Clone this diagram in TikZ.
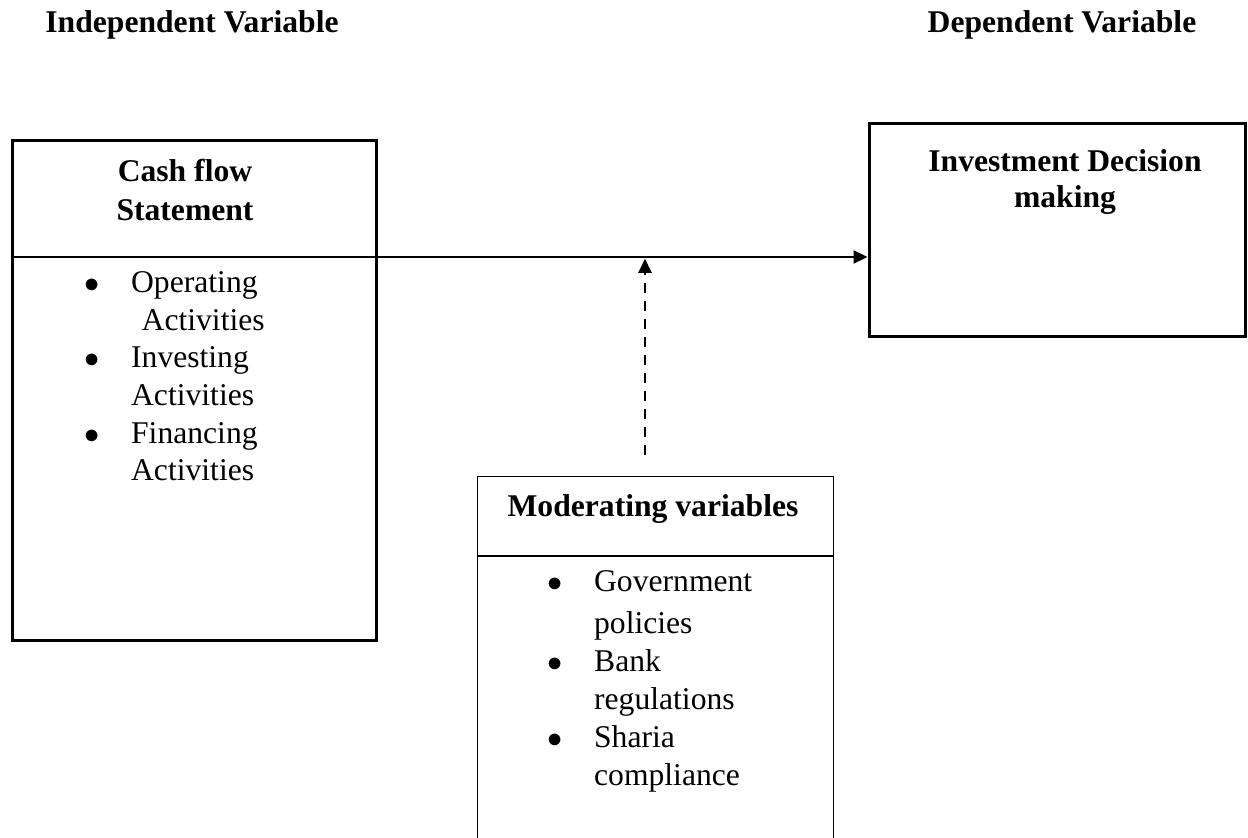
\documentclass[tikz,border=0pt]{standalone}
\usepackage{fontspec}
\setmainfont{Liberation Serif}
\usetikzlibrary{arrows.meta}

\begin{document}
\begin{tikzpicture}[x=0.02cm,y=-0.02cm]
    % Define styles
    \tikzstyle{box} = [rectangle, draw=black, line width=1.7pt, inner sep=0pt]
    \tikzstyle{title} = [font=\fontsize{18}{22.7}\selectfont\bfseries, align=center, inner sep=0pt]
    \tikzstyle{items} = [font=\fontsize{18}{21.4}\selectfont, anchor=north west, inner sep=0pt]
    \tikzstyle{arrow} = [line width=1.1pt, -{Triangle[length=0.28cm,width=0.26cm]}]
    \tikzstyle{dasharrow} = [arrow, dash pattern=on 0.2cm off 0.16cm, shorten >=1pt]

    \useasboundingbox (0,0) rectangle (1248,838);

    % Headings
    \node[title] (indep) at (192,25) {Independent Variable};
    \node[title] (dep) at (1062,25) {Dependent Variable};

    % Boxes
    \node[box, minimum width=7.3cm, minimum height=10.02cm] (cash) at (194.5,390.5) {};
    \node[box, minimum width=7.54cm, minimum height=4.28cm] (invest) at (1057.5,230) {};
    \node[minimum width=7.1cm, minimum height=7.22cm, inner sep=0pt] (moder) at (655.5,657.5) {};
    \draw[line width=0.6pt] (moder.south west) -- (moder.north west) -- (moder.north east) -- (moder.south east);

    % Dividers
    \draw[line width=1.7pt] (cash.west |- 0,257) -- (cash.east |- 0,257);
    \draw[line width=1.1pt] (moder.west |- 0,556) -- (moder.east |- 0,556);

    % Box titles
    \node[title] (cashtitle) at (185,190) {Cash flow\\Statement};
    \node[title, font=\fontsize{18}{20.4}\selectfont\bfseries] (investtitle) at (1065,182) {Investment Decision\\making};
    \node[title] (modtitle) at (653,509) {Moderating variables};

    % Bullet lists
    \node[items] (cashlist) at (84,266) {\begin{tabular}{@{}l@{\hspace{18pt}}l@{}}
        $\bullet$ & Operating\\
                  & \hspace{6pt}Activities\\
        $\bullet$ & Investing\\
                  & Activities\\
        $\bullet$ & Financing\\
                  & Activities
    \end{tabular}};
    \node[items, font=\fontsize{18}{21.5}\selectfont] (modlist) at (547,565) {\begin{tabular}{@{}l@{\hspace{18pt}}l@{}}
        $\bullet$ & Government\\[2.5pt]
                  & policies\\
        $\bullet$ & Bank\\
                  & regulations\\
        $\bullet$ & Sharia\\
                  & compliance
    \end{tabular}};

    % Arrows
    \coordinate (split) at (645,257);
    \coordinate (modtop) at (645,455);
    \draw[arrow] (cash.east |- split) -- (invest.west |- split);
    \draw[dasharrow] (modtop) -- (split);
\end{tikzpicture}
\end{document}
